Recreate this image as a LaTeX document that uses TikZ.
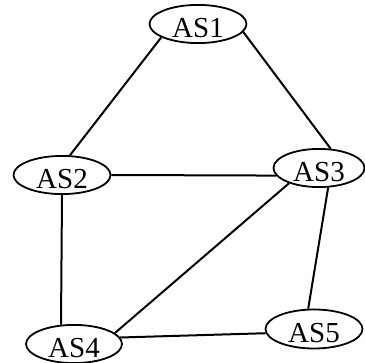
\documentclass[tikz,border=0pt]{standalone}
\usepackage{fontspec}
\setmainfont{Liberation Serif}
\usetikzlibrary{shapes.geometric}

\tikzset{
  asnode/.style={ellipse,draw,line width=1.8pt,inner sep=0pt,
    minimum width=97pt,minimum height=37pt,
    text height=27pt,text depth=0pt,font=\fontsize{29}{33}\selectfont},
  link/.style={line width=2pt}
}

\begin{document}
\begin{tikzpicture}[x=1pt,y=-1pt]
                        \useasboundingbox (0,0) rectangle (365,363);
                        % top
                        \node[asnode] (AS1) at (198,24) {AS1};
                        % middle row
                        \node[asnode] (AS2) at (62,175) {AS2};
                        \node[asnode,minimum width=91pt,minimum height=38pt] (AS3) at (319,168) {AS3};
                        % bottom row
                        \node[asnode,minimum width=96pt,minimum height=36pt] (AS4) at (74,344) {AS4};
                        \node[asnode,minimum height=39pt] (AS5) at (314,329) {AS5};
                        % links
                        \draw[link] (AS1.200) -- (AS2.68);
                        \draw[link] (AS1.350) -- (AS3.59);
                        \draw[link] (AS2.east) -- (AS3.190);
                        \draw[link] (AS2.south) -- (AS4.124);
                        \draw[link] (AS3.207) -- (AS4.15);
                        \draw[link] (AS3.295) -- (AS5.106);
                        \draw[link] (AS4.8) -- (AS5.185);
                    \end{tikzpicture}
\end{document}
